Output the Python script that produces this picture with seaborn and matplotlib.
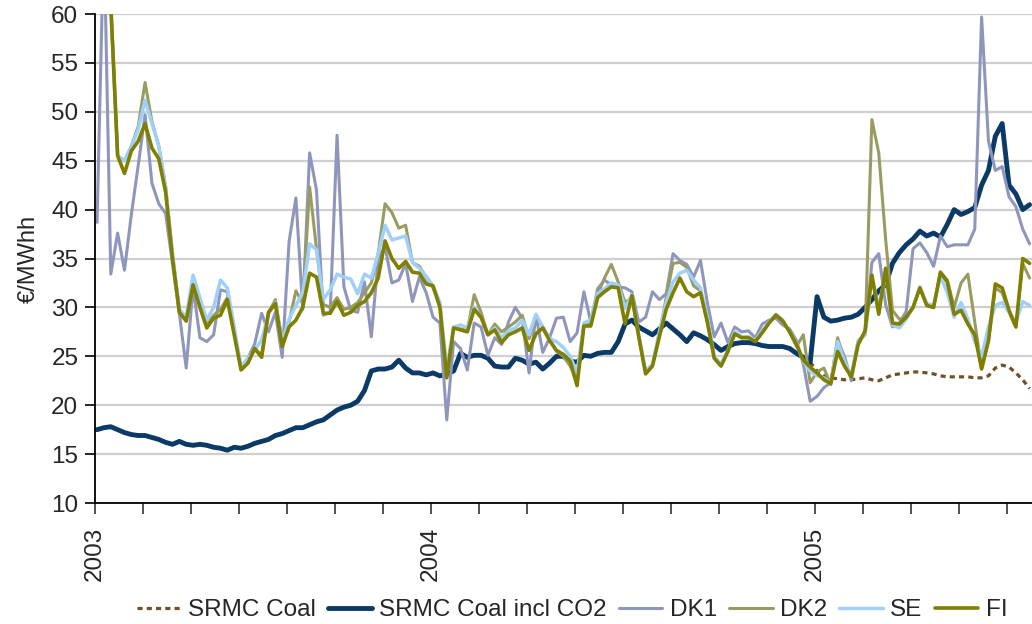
import numpy as np
import pandas as pd
import matplotlib
matplotlib.use("Agg")
import matplotlib.pyplot as plt
import seaborn as sns

# weekly points, index 0 = first week of 2003
srmc_coal_start = 104
srmc_coal = [24.4, 23.5, 23.0, 22.8, 22.7, 22.6, 22.6, 22.7, 22.8, 22.6,
             22.5, 22.8, 23.1, 23.2, 23.3, 23.4, 23.4, 23.3, 23.2, 23.0,
             22.9, 22.9, 22.9, 22.9, 22.8, 22.8, 23.0, 23.8, 24.1, 23.9,
             23.3, 22.6, 21.7]

srmc_co2 = [17.5, 17.7, 17.8, 17.5, 17.2, 17.0, 16.9, 16.9, 16.7, 16.5,
            16.2, 16.0, 16.3, 16.0, 15.9, 16.0, 15.9, 15.7, 15.6, 15.4,
            15.7, 15.6, 15.8, 16.1, 16.3, 16.5, 16.9, 17.1, 17.4, 17.7,
            17.7, 18.0, 18.3, 18.5, 19.0, 19.5, 19.8, 20.0, 20.4, 21.5,
            23.5, 23.7, 23.7, 23.9, 24.6, 23.8, 23.3, 23.3, 23.1, 23.3,
            23.0, 23.2, 23.5, 25.3, 24.9, 25.1, 25.1, 24.8, 24.0, 23.9,
            23.9, 24.8, 24.6, 24.2, 24.4, 23.7, 24.3, 25.0, 25.0, 24.5,
            24.4, 25.1, 25.0, 25.3, 25.4, 25.4, 26.5, 28.3, 28.7, 28.0,
            27.6, 27.2, 27.8, 28.4, 27.8, 27.2, 26.5, 27.4, 27.1, 26.7,
            26.2, 25.6, 26.0, 26.3, 26.4, 26.4, 26.3, 26.1, 26.0, 26.0,
            26.0, 25.8, 25.3, 24.9, 24.4, 31.1, 29.0, 28.6, 28.7, 28.9,
            29.0, 29.3, 30.0, 30.8, 31.7, 32.3, 34.5, 35.6, 36.4, 37.0,
            37.8, 37.3, 37.6, 37.2, 38.5, 40.0, 39.5, 39.8, 40.2, 42.5,
            44.0, 47.5, 48.8, 42.5, 41.6, 40.0, 40.5]

dk1 = [38.7, 68.5, 33.4, 37.6, 33.8, 39.5, 44.5, 49.7, 42.7, 40.6,
       39.6, 34.5, 29.4, 23.8, 32.1, 26.9, 26.5, 27.2, 31.8, 31.6,
       27.5, 23.9, 24.8, 26.3, 29.4, 27.5, 29.5, 24.9, 36.7, 41.2,
       29.8, 45.8, 42.0, 29.2, 29.5, 47.6, 32.1, 29.7, 29.5, 32.6,
       27.0, 35.0, 36.2, 32.5, 32.8, 34.5, 30.6, 33.1, 31.5, 29.0,
       28.4, 18.5, 26.5, 25.8, 23.6, 28.4, 28.0, 25.1, 26.9, 26.2,
       28.5, 30.0, 28.9, 23.3, 29.2, 25.4, 26.9, 28.9, 29.0, 26.5,
       27.4, 31.6, 28.5, 31.9, 32.8, 32.3, 32.1, 32.0, 31.6, 28.5,
       29.0, 31.6, 30.8, 31.4, 35.5, 34.8, 34.4, 33.1, 34.8, 30.5,
       27.0, 28.4, 26.4, 28.0, 27.5, 27.6, 26.9, 28.3, 28.7, 28.9,
       28.2, 27.8, 26.6, 24.2, 20.4, 20.9, 21.8, 22.3, 26.6, 25.0,
       22.5, 26.6, 27.3, 34.6, 35.5, 30.3, 28.0, 28.4, 29.6, 36.0,
       36.6, 35.6, 34.2, 37.3, 36.2, 36.4, 36.4, 36.4, 38.0, 59.7,
       47.0, 44.0, 44.4, 41.3, 40.3, 38.0, 36.5]

dk2 = [70.0, 68.0, 61.0, 45.5, 45.0, 46.5, 48.5, 53.0, 49.0, 46.5,
       42.3, 35.5, 29.8, 28.8, 32.6, 30.2, 28.2, 29.2, 29.8, 31.0,
       27.5, 23.8, 24.6, 25.7, 25.2, 29.4, 30.8, 26.5, 28.5, 31.7,
       30.4, 42.3, 36.0, 30.3, 30.0, 31.0, 29.8, 30.0, 30.5, 31.5,
       32.5, 35.5, 40.6, 39.7, 38.1, 38.4, 34.6, 34.2, 33.1, 32.0,
       30.2, 23.5, 27.9, 27.8, 27.7, 31.3, 29.5, 27.2, 28.3, 27.5,
       28.0, 28.5, 29.2, 26.8, 29.1, 28.0, 26.8, 25.5, 25.0, 24.0,
       22.5, 28.2, 28.3, 31.3, 33.0, 34.4, 32.6, 30.5, 31.0, 27.0,
       23.4, 24.1, 27.2, 31.0, 34.5, 34.6, 34.1, 32.2, 31.7, 28.6,
       24.9, 24.1, 25.5, 27.3, 27.0, 27.0, 26.5, 27.5, 28.5, 29.3,
       28.7, 27.5, 26.0, 27.2, 22.3, 23.4, 23.8, 22.1, 26.9, 24.6,
       22.9, 26.5, 27.2, 49.2, 45.8, 37.0, 29.7, 28.8, 29.0, 30.0,
       32.0, 30.2, 30.0, 33.6, 32.8, 30.0, 32.5, 33.4, 28.5, 23.8,
       26.6, 32.0, 31.5, 29.5, 28.0, 34.5, 33.0]

se = [70.0, 68.0, 61.0, 45.5, 45.0, 46.4, 48.2, 51.2, 48.8, 46.5,
      42.3, 35.5, 29.8, 29.0, 33.3, 31.0, 28.7, 30.0, 32.8, 32.0,
      28.0, 23.9, 24.8, 25.6, 26.7, 29.3, 30.5, 26.5, 28.8, 30.2,
      31.5, 36.5, 35.9, 30.8, 31.8, 33.4, 33.1, 32.9, 31.4, 33.4,
      33.0, 35.5, 38.4, 36.9, 37.1, 37.3, 34.6, 34.0, 33.2, 32.2,
      30.5, 23.7, 28.0, 28.2, 27.9, 30.0, 29.0, 27.2, 27.9, 26.9,
      27.6, 27.9, 28.7, 27.2, 29.3, 28.0, 26.8, 26.5, 25.9, 25.0,
      23.3, 28.4, 28.7, 31.4, 31.9, 32.5, 32.3, 29.9, 31.3, 27.2,
      23.5, 24.2, 27.5, 30.5, 32.6, 33.5, 33.8, 32.8, 32.0, 29.0,
      25.0, 24.2, 25.6, 27.5, 27.0, 27.0, 26.6, 27.6, 28.5, 29.2,
      28.6, 27.5, 26.3, 24.5, 23.5, 23.0, 22.8, 22.2, 26.5, 24.5,
      23.0, 26.6, 27.2, 33.0, 30.0, 33.5, 28.2, 27.9, 28.8, 30.0,
      32.1, 30.4, 30.2, 33.2, 31.5, 29.0, 30.5, 28.8, 26.5, 25.0,
      28.0, 30.2, 30.5, 29.5, 28.5, 30.6, 30.2]

fi = [70.0, 68.0, 61.0, 45.5, 43.7, 46.0, 47.0, 48.8, 46.3, 45.2,
      41.8, 35.0, 29.5, 28.6, 32.3, 30.0, 27.9, 28.9, 29.2, 30.8,
      27.2, 23.6, 24.3, 25.8, 24.9, 29.5, 30.4, 26.0, 28.0, 28.7,
      30.0, 33.5, 33.1, 29.4, 29.4, 30.6, 29.2, 29.5, 30.2, 30.6,
      31.5, 33.0, 36.8, 35.0, 34.0, 34.7, 33.6, 33.5, 32.4, 32.2,
      30.0, 22.8, 27.9, 27.7, 27.5, 29.8, 29.0, 27.2, 27.7, 26.4,
      27.2, 27.5, 27.9, 25.6, 27.3, 27.9, 26.6, 25.6, 25.2, 24.5,
      22.0, 28.1, 28.1, 31.0, 31.6, 32.1, 32.0, 28.3, 31.2, 27.0,
      23.2, 24.0, 27.0, 29.8, 31.5, 33.0, 31.6, 31.1, 31.5, 28.5,
      24.8, 24.0, 25.5, 27.3, 26.9, 26.9, 26.5, 27.4, 28.4, 29.2,
      28.6, 27.5, 26.2, 24.6, 23.9, 23.3, 22.6, 22.2, 25.5, 24.0,
      22.9, 26.2, 27.6, 33.3, 29.3, 34.0, 28.4, 28.3, 29.0, 30.0,
      32.0, 30.2, 30.0, 33.6, 32.6, 29.3, 29.7, 28.3, 27.2, 23.7,
      26.6, 32.4, 32.0, 29.7, 28.0, 35.0, 34.5]

year_labels = ["2003", "2004", "2005"]
year_ticks = [0, 7, 15]  # position in tick steps

series = [
    ("SRMC Coal", srmc_coal, srmc_coal_start, "#6e5128", 2.3, (0, (1.6, 1.3))),
    ("SRMC Coal incl CO2", srmc_co2, 0, "#0c3a66", 3.5, "-"),
    ("DK1", dk1, 0, "#8f96bb", 2.2, "-"),
    ("DK2", dk2, 0, "#989c62", 2.2, "-"),
    ("SE", se, 0, "#9fd0fb", 2.5, "-"),
    ("FI", fi, 0, "#7f7f00", 2.6, "-"),
]

sns.set_theme(style="white")
plt.rcParams["font.family"] = ["Liberation Sans", "DejaVu Sans"]

fig = plt.figure(figsize=(10.32, 6.24), dpi=100)
ax = fig.add_axes([95 / 1032, 1 - 503 / 624, 1 - 95 / 1032, 489 / 624])

for name, vals, start, color, lw, ls in series:
    df = pd.DataFrame({"x": np.arange(start, start + len(vals)), "y": vals})
    sns.lineplot(data=df, x="x", y="y", ax=ax, color=color, linewidth=lw,
                 label=name, linestyle=ls)

ax.set_ylim(10, 60)
ax.set_yticks(np.arange(10, 61, 5))
step = 6.857
ax.set_xlim(-0.3, -0.3 + (1032 - 95) / step)
ticks = np.arange(0, 20) * 7 - 0.3
ax.set_xticks(ticks)
labels = [""] * len(ticks)
for lab, k in zip(year_labels, year_ticks):
    labels[k] = lab
ax.set_xticklabels(labels, rotation=90, fontsize=17.5)
ax.tick_params(axis="y", labelsize=17.5, length=7, width=1.2, color="black",
               direction="out", left=True, pad=5)
ax.tick_params(axis="x", length=8, width=1.2, color="#333333",
               direction="out", bottom=True, pad=9)

ax.grid(axis="y", color="#cfcfcf", linewidth=1.6)
ax.grid(axis="x", visible=False)
ax.set_axisbelow(True)
for s in ["top", "right"]:
    ax.spines[s].set_visible(False)
for s in ["left", "bottom"]:
    ax.spines[s].set_color("black")
    ax.spines[s].set_linewidth(1.3)

ax.set_xlabel("")
ax.set_ylabel("€/MWhh", fontsize=17, labelpad=8)

ax.legend(loc="center", bbox_to_anchor=(572 / 1032, 14 / 624),
          bbox_transform=fig.transFigure, ncol=6, frameon=False,
          fontsize=17.5, handlelength=1.8, handletextpad=0.3,
          columnspacing=0.5)

fig.savefig("out.png", dpi=100)
